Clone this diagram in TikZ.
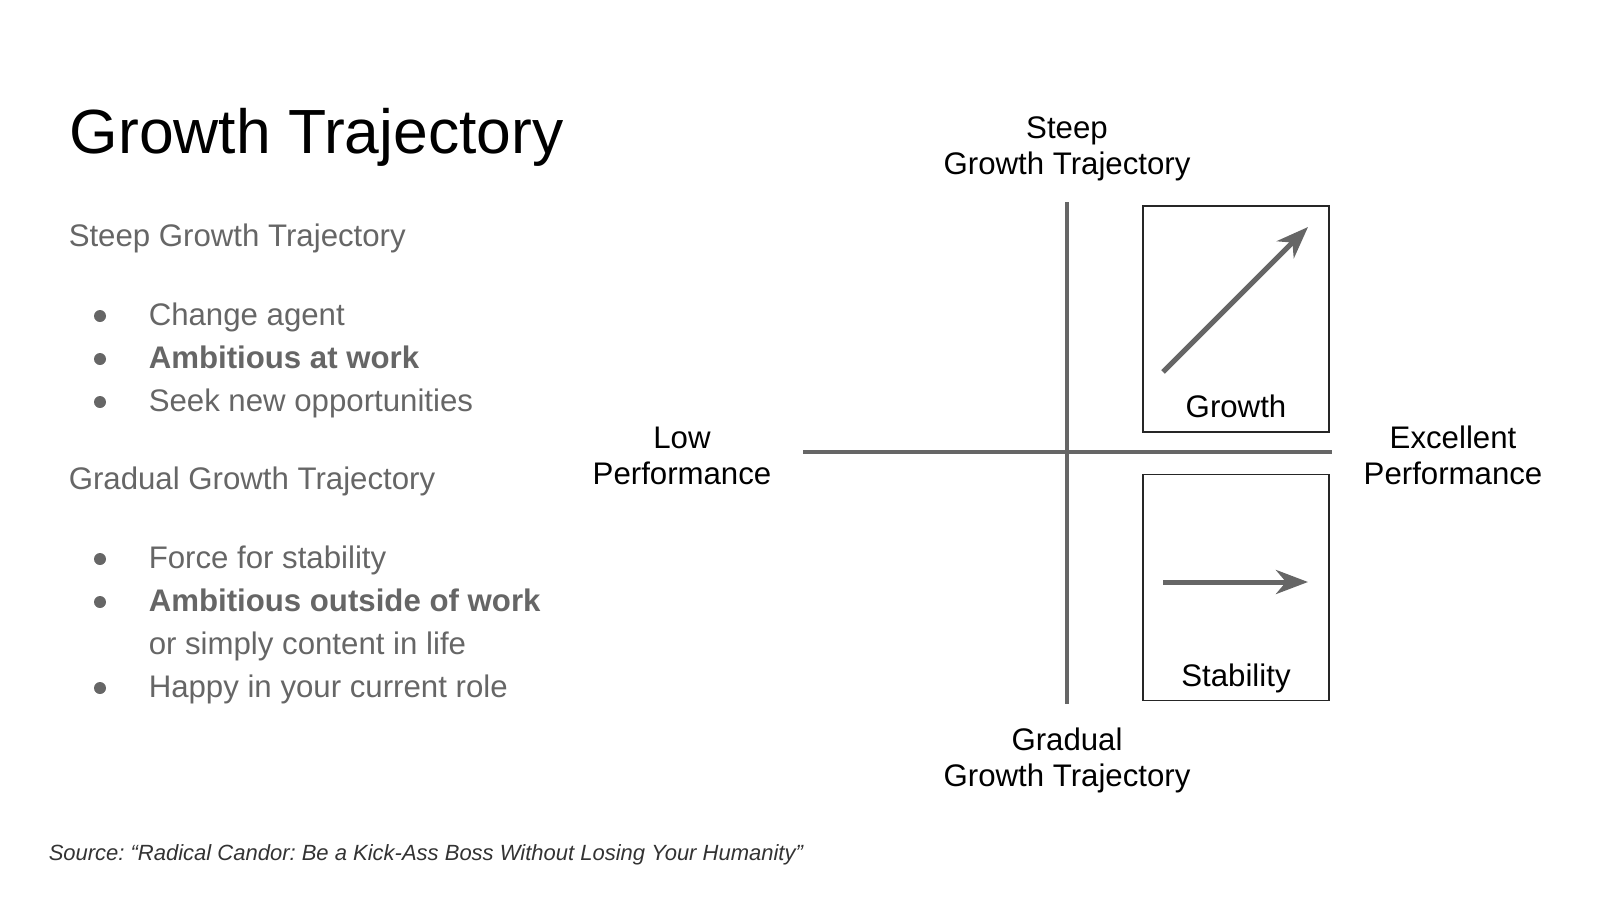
\documentclass[tikz,border=0pt]{standalone}
\usepackage{fontspec}
\setmainfont{Liberation Sans}
\usepackage{tikz}
\usepackage{xcolor}
\usetikzlibrary{arrows.meta}
\definecolor{textgray}{HTML}{666666}
\definecolor{axisgray}{HTML}{666666}
\definecolor{sourcegray}{HTML}{333333}
\frenchspacing
\tikzset{every picture/.style={line width=0.75pt}}
\tikzset{
  axis/.style={draw=axisgray, line width=2pt},
  quadbox/.style={draw=black!85, line width=0.65pt, minimum width=93pt, minimum height=113pt, inner sep=0pt},
  trend/.style={draw=axisgray, line width=2.5pt, -{Stealth[length=16pt,width=12pt,inset=5pt]}},
  heading/.style={font=\fontsize{15.6}{18}\selectfont, text=textgray, anchor=base west, inner sep=0pt},
  bolditem/.style={heading, font=\fontsize{15.6}{18}\selectfont\bfseries},
  dot/.style={circle, fill=textgray, inner sep=0pt, minimum size=6pt},
  axislabel/.style={font=\fontsize{15.6}{18}\selectfont, align=center, anchor=base, inner sep=0pt},
}

\begin{document}
\begin{tikzpicture}[x=0.5pt,y=0.5pt,yscale=-1,xscale=1]
\useasboundingbox (0,0) rectangle (1600,900);

% Title
\node (title) [anchor=base west, inner sep=0pt, font=\fontsize{31.2}{36}\selectfont] at (69,153) {Growth Trajectory};

% Text Node
\node (steep) [heading] at (68,246) {Steep Growth Trajectory};
\node (dot1) [dot] at (100,316) {};
\node (change) [heading] at (148,325) {Change agent};
\node (dot2) [dot] at (100,359) {};
\node (ambwork) [bolditem] at (148,368) {Ambitious at work};
\node (dot3) [dot] at (100,402) {};
\node (seek) [heading] at (148,411) {Seek new opportunities};

% Text Node
\node (gradual) [heading] at (68,489) {Gradual Growth Trajectory};
\node (dot4) [dot] at (100,559) {};
\node (force) [heading] at (148,568) {Force for stability};
\node (dot5) [dot] at (100,602) {};
\node (ambout) [bolditem] at (148,611) {Ambitious outside of work};
\node (content) [heading] at (148,654) {or simply content in life};
\node (dot6) [dot] at (100,688) {};
\node (happy) [heading] at (148,697) {Happy in your current role};

%Straight Lines
\coordinate (ytop) at (1067,202);
\coordinate (ybot) at (1067,704);
\coordinate (xleft) at (803,452);
\coordinate (xright) at (1332,452);
\draw [axis] (ytop) -- (ybot);
\draw [axis] (xleft) -- (xright);

%Shape: Rectangle
\node (growthbox) [quadbox] at (1236,319) {};
\node (stabbox) [quadbox] at (1236,587.5) {};

%Straight Lines
\coordinate (gfrom) at (1163,372);
\coordinate (gto) at (1308,227);
\draw [trend] (gfrom) -- (gto);
\coordinate (sfrom) at (1163,582);
\coordinate (sto) at (1308,582);
\draw [trend] (sfrom) -- (sto);

% Text Node
\node (growth) [axislabel] at (1236,417) {Growth};
\node (stability) [axislabel] at (1236,686) {Stability};
\node (steeplabel) [axislabel] at (1067,174) {Steep\\Growth Trajectory};
\node (gradlabel) [axislabel] at (1067,786) {Gradual\\Growth Trajectory};
\node (lowlabel) [axislabel] at (682,484) {Low\\Performance};
\node (exclabel) [axislabel] at (1453,484) {Excellent\\Performance};

% Text Node
\node (source) [anchor=base west, inner sep=0pt, text=sourcegray, font=\fontsize{11}{13}\selectfont\itshape] at (48,860) {Source: “Radical Candor: Be a Kick-Ass Boss Without Losing Your Humanity”};

\end{tikzpicture}
\end{document}
